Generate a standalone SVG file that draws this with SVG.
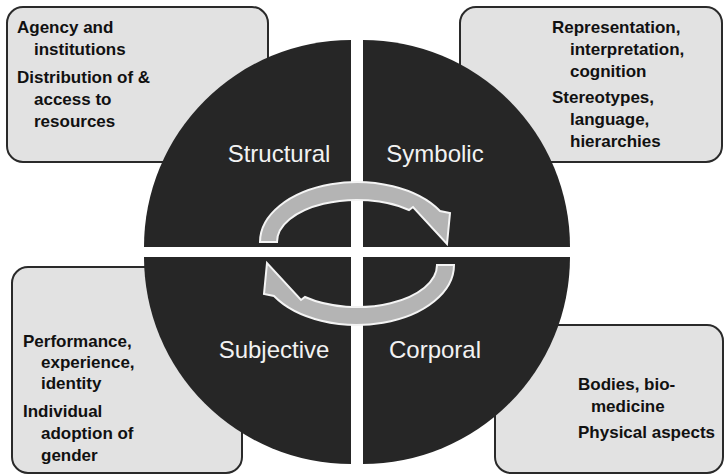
<svg xmlns="http://www.w3.org/2000/svg" width="724" height="476" viewBox="0 0 724 476">
<style>
.box{fill:#e2e2e2;stroke:#2a2a2a;stroke-width:2}
.quad{fill:#262626}
.bt{font-family:"Liberation Sans",Arial,sans-serif;font-weight:bold;font-size:17px;fill:#111}
.qt{font-family:"Liberation Sans",Arial,sans-serif;font-size:24px;fill:#f2f2f2;text-anchor:middle}
.arr{fill:#b4b4b4;stroke:#f4f4f4;stroke-width:2;stroke-linejoin:miter}
</style>
<rect width="724" height="476" fill="#ffffff"/>
<g id="box-structural">
<rect class="box" x="7" y="7" width="261" height="155" rx="16"/>
<text class="bt"><tspan x="17" y="33">Agency and</tspan><tspan x="34" y="55">institutions</tspan><tspan x="17" y="83">Distribution of &amp;</tspan><tspan x="34" y="105">access to</tspan><tspan x="34" y="127">resources</tspan></text>
</g>
<g id="box-symbolic">
<rect class="box" x="460" y="7" width="262" height="155" rx="16"/>
<text class="bt"><tspan x="552" y="33">Representation,</tspan><tspan x="570" y="55">interpretation,</tspan><tspan x="570" y="77">cognition</tspan><tspan x="552" y="103">Stereotypes,</tspan><tspan x="570" y="125">language,</tspan><tspan x="570" y="147">hierarchies</tspan></text>
</g>
<g id="box-subjective">
<rect class="box" x="12" y="267" width="230" height="206" rx="16"/>
<text class="bt"><tspan x="23" y="347">Performance,</tspan><tspan x="41" y="368">experience,</tspan><tspan x="41" y="389">identity</tspan><tspan x="23" y="417">Individual</tspan><tspan x="41" y="439">adoption of</tspan><tspan x="41" y="461">gender</tspan></text>
</g>
<g id="box-corporal">
<rect class="box" x="495" y="325" width="228" height="148" rx="16"/>
<text class="bt"><tspan x="578" y="390">Bodies, bio-</tspan><tspan x="591" y="412">medicine</tspan><tspan x="578" y="438">Physical aspects</tspan></text>
</g>
<g id="structural">
<path class="quad" d="M351,247 L144,247 A207,207 0 0 1 351,40 Z"/>
<text class="qt" x="279" y="162">Structural</text>
</g>
<g id="symbolic">
<path class="quad" d="M363,247 L363,40 A207,207 0 0 1 570,247 Z"/>
<text class="qt" x="435" y="162">Symbolic</text>
</g>
<g id="subjective">
<path class="quad" d="M351,257 L351,464 A207,207 0 0 1 144,257 Z"/>
<text class="qt" x="274" y="358">Subjective</text>
</g>
<g id="corporal">
<path class="quad" d="M363,257 L570,257 A207,207 0 0 1 363,464 Z"/>
<text class="qt" x="435" y="358">Corporal</text>
</g>
<g id="connectors">
<path class="arr" d="M260,242 A97,60 0 0 1 440,211 L450,213 L447,244 L413,207 L409,210 A80,42 0 0 0 277,242 Z"/>
<path class="arr" transform="rotate(180 357 253.5)" d="M260,242 A97,60 0 0 1 440,211 L450,213 L447,244 L413,207 L409,210 A80,42 0 0 0 277,242 Z"/>
</g>
</svg>
